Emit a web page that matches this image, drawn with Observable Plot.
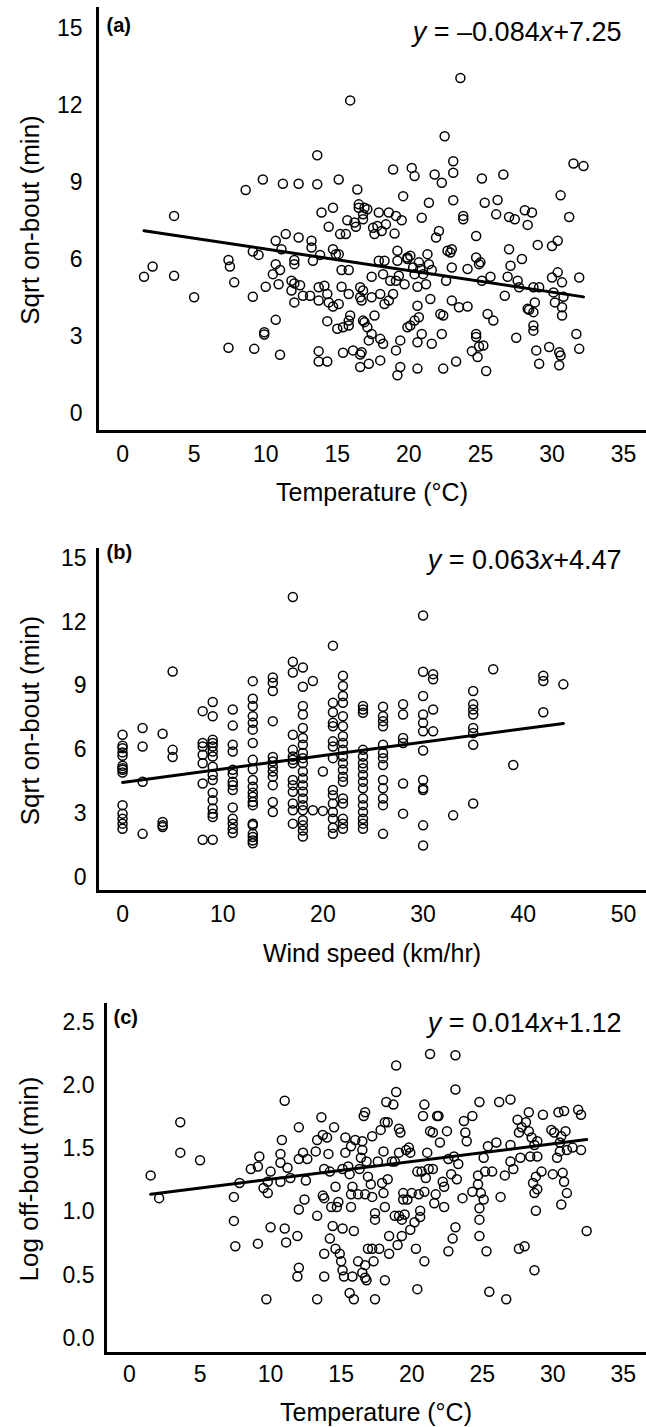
<!DOCTYPE html>
<html><head><meta charset="utf-8">
<script src="https://cdn.jsdelivr.net/npm/d3@7"></script>
<script src="https://cdn.jsdelivr.net/npm/@observablehq/plot@0.6"></script>
<style>
body{margin:0;background:#fff;}
#chart svg{display:block;}
</style>
</head><body><div id="chart"></div>
<script>
// ---------- Panel (a): temperature vs sqrt on-bout ----------
const tempA = [1.5,2.1,3.6,3.6,5.0,7.4,7.5,7.8,7.4,8.6,9.1,9.1,9.2,9.5,9.8,9.9,9.9,10.0,10.7,10.7,10.5,10.7,11.0,10.9,11.1,11.0,11.2,11.4,12.3,12.3,12.0,12.0,11.8,12.0,11.8,12.0,12.4,12.6,13.1,13.2,13.2,13.3,13.6,13.6,13.7,13.7,13.7,13.7,13.9,13.8,14.1,14.3,14.3,14.3,14.4,14.7,14.7,14.4,14.7,14.9,15.1,15.1,15.1,15.0,15.2,15.3,15.3,15.4,15.4,15.6,15.7,15.8,15.8,15.8,15.8,15.9,15.9,16.1,16.2,16.3,16.4,16.5,16.5,16.6,16.6,16.6,16.6,16.7,16.8,16.8,16.7,16.8,16.8,16.9,16.9,17.1,17.1,17.2,17.2,17.4,17.4,17.4,17.5,17.6,17.6,17.8,17.9,17.9,18.0,18.0,18.0,18.1,18.2,18.2,18.3,18.3,18.4,18.6,18.6,18.7,18.9,18.9,19.0,19.1,19.1,19.1,19.2,19.2,19.3,19.4,19.2,19.4,19.5,19.6,19.7,19.9,19.9,19.9,20.1,20.1,20.2,20.3,20.4,20.4,20.4,20.6,20.6,20.7,20.6,20.6,20.7,20.8,20.9,20.9,21.0,21.2,21.3,21.4,21.4,21.5,21.6,21.6,21.8,21.9,22.1,22.3,22.2,22.3,22.4,22.4,22.5,22.6,22.7,22.9,23.0,23.0,23.0,23.1,23.1,23.1,23.3,23.5,23.6,23.8,23.8,24.1,24.1,24.4,24.7,24.7,24.7,24.7,24.8,24.9,24.9,25.0,25.1,25.1,25.2,25.3,25.4,25.5,25.7,25.9,26.1,26.2,26.6,26.7,27.0,27.0,27.1,26.9,27.4,27.5,27.6,27.7,27.9,28.1,28.3,28.3,28.4,28.6,28.7,28.7,28.7,28.7,28.8,28.9,29.0,29.1,29.1,29.8,30.0,30.0,30.1,30.2,30.4,30.4,30.5,30.6,30.5,30.6,30.7,30.7,30.7,30.8,31.2,31.5,31.7,31.9,31.9,32.2];
const onA = [5.33,5.73,7.70,5.37,4.53,5.98,5.73,5.11,2.56,8.71,6.31,4.55,2.52,6.18,9.12,3.17,3.08,4.94,6.73,5.82,5.43,3.65,2.29,5.04,6.40,5.59,8.95,6.99,8.95,6.86,5.98,5.82,5.17,5.07,4.79,4.33,5.0,4.59,4.59,6.73,6.47,5.95,8.93,10.06,4.92,4.40,2.43,2.03,7.83,6.18,4.98,4.66,3.60,2.03,7.28,8.02,6.40,4.33,4.17,6.21,9.12,6.21,4.27,3.30,6.99,5.59,4.94,3.36,2.37,6.99,7.53,5.59,4.66,3.62,3.43,12.2,3.82,2.46,7.44,7.28,8.73,8.15,8.02,4.92,4.53,2.30,1.81,2.39,7.76,7.57,4.40,4.79,3.62,8.02,3.56,7.96,3.36,2.85,1.94,5.33,4.53,3.10,7.24,6.99,3.82,7.31,7.83,5.95,4.66,2.91,2.07,7.11,5.43,2.72,4.27,5.95,7.37,7.83,4.40,5.17,9.51,4.66,7.01,5.17,2.46,7.70,6.34,5.95,5.37,2.85,1.49,1.81,7.53,8.47,5.04,6.08,3.36,6.02,6.15,3.43,9.57,5.69,9.25,5.43,3.62,4.94,1.75,5.89,4.20,2.78,3.75,5.63,7.63,3.10,5.43,5.04,6.21,8.21,5.82,4.46,5.59,2.72,9.31,6.86,7.11,8.99,3.88,3.10,3.82,1.75,10.8,5.17,6.34,6.27,6.40,4.40,5.69,9.83,9.38,8.31,2.03,4.14,13.07,7.70,7.57,5.63,4.17,2.43,6.92,6.08,3.10,2.98,2.20,5.82,2.61,5.89,9.16,5.17,2.65,8.21,1.66,3.88,5.33,3.62,7.76,8.32,9.31,4.59,6.40,7.66,5.76,5.33,7.57,2.95,5.17,4.92,6.02,7.92,7.35,4.08,4.04,7.83,4.92,3.95,3.43,3.23,4.33,2.46,6.57,1.94,4.92,2.59,6.53,5.30,4.72,4.33,6.73,5.50,2.39,2.26,1.88,8.50,5.11,4.14,3.82,4.55,7.66,9.74,3.10,2.52,5.30,9.64];

// ---------- Panel (b): wind speed vs sqrt on-bout ----------
const windB = [
 0,0,0,0,0,0,0,0,0,0,0,0,0,0,
 2,2,2,2, 4,4,4,4, 5,5,5,
 8,8,8,8,8,8,8,
 9,9,9,9,9,9,9,9,9,9,9,9,9,9,9,9,
 11,11,11,11,11,11,11,11,11,11,11,11,11,11,
 13,13,13,13,13,13,13,13,13,13,13,13,13,13,13,13,13,13,13,13,13,
 15,15,15,15,15,15,15,15,15,15,15,15,
 17,17,17,17,17,17,17,17,17,17,17,17,17,17,
 18,18,18,18,18,18,18,18,18,18,18,18,18,18,18,18,18,18,18,18,18,
 19,19, 20,20,
 21,21,21,21,21,21,21,21,21,21,21,21,21,21,21,
 22,22,22,22,22,22,22,22,22,22,22,22,22,22,22,22,22,22,22,
 24,24,24,24,24,24,24,24,24,24,24,24,24,24,24,24,
 26,26,26,26,26,26,26,26,26,26,26,26,26,
 28,28,28,28,28,28,
 30,30,30,30,30,30,30,30,30,30,30,30,
 31,31,31,31, 33,
 35,35,35,35,35,35,35,35,
 37, 39, 42,42,42, 44];
const onB = [
 6.71,6.19,6.08,5.88,5.72,5.25,5.14,5.06,4.93,3.40,3.00,2.76,2.53,2.29,
 7.03,6.16,4.50,2.05, 6.76,2.61,2.45,2.37, 9.68,6.0,5.66,
 7.82,6.32,6.16,5.77,5.37,4.42,1.77,
 8.25,7.58,6.48,6.32,6.16,5.92,5.69,5.21,4.82,4.58,3.98,3.63,3.24,3.0,2.84,1.77,
 7.9,7.14,6.24,5.92,5.06,4.87,4.50,4.34,4.11,3.29,2.76,2.53,2.29,2.09,
 9.23,8.40,8.06,7.58,7.27,6.95,6.32,5.53,5.09,4.58,4.27,3.98,3.79,3.55,3.40,2.53,2.45,2.05,1.90,1.74,1.61,
 9.40,9.16,8.77,7.35,5.66,5.45,5.21,4.98,4.74,4.34,3.55,3.08,
 13.19,10.14,9.64,6.71,6.0,5.69,5.53,5.37,4.58,4.34,4.03,3.48,3.16,2.53,
 9.87,8.97,8.06,7.66,7.03,6.56,6.24,5.85,5.61,5.37,4.98,4.66,4.34,4.03,3.71,3.40,3.16,2.69,2.45,2.21,1.93,
 9.24,3.16, 4.98,3.13,
 10.9,8.21,7.77,7.27,7.11,6.40,6.16,5.61,4.11,3.87,3.48,3.08,2.76,2.34,2.05,
 9.48,9.0,8.53,8.21,7.58,7.11,6.64,6.32,6.0,5.69,5.37,5.06,4.74,4.50,3.71,3.48,2.76,2.53,2.29,
 8.06,7.9,7.74,6.0,5.69,5.37,5.13,4.82,4.50,4.19,3.71,3.40,3.08,2.76,2.53,2.29,
 8.03,7.58,7.35,7.11,6.24,5.85,5.61,5.29,4.58,4.19,3.71,3.40,2.05,
 8.14,7.66,6.56,6.32,4.42,3.0,
 12.32,9.67,8.53,7.66,7.27,6.87,5.97,4.58,4.19,4.11,2.45,1.50,
 9.56,9.32,7.90,6.87, 2.92,
 8.77,8.14,7.9,7.66,7.03,6.79,6.24,3.48,
 9.79, 5.29, 9.48,9.24,7.77, 9.08];

// ---------- Panel (c): temperature vs log off-bout ----------
const tempC = [1.5,2.1,3.6,3.6,5.0,7.8,7.4,7.4,7.5,8.6,9.1,9.2,9.1,9.5,9.8,9.7,10.0,9.8,10.0,10.7,10.8,10.7,10.7,11.0,11.0,11.1,11.2,11.4,11.9,12.0,12.0,12.0,12.0,11.9,12.3,12.4,12.5,12.6,13.2,13.3,13.3,13.3,13.6,13.7,13.8,13.7,13.8,13.8,13.8,14.0,14.1,14.2,14.2,14.3,14.4,14.5,14.6,14.6,14.7,14.8,14.9,15.0,15.1,15.1,15.2,15.1,15.3,15.3,15.5,15.6,15.6,15.7,15.7,15.7,15.8,15.8,15.9,15.9,16.0,16.2,16.2,16.3,16.4,16.5,16.5,16.5,16.6,16.7,16.7,16.7,16.7,16.8,16.8,16.9,16.9,17.1,17.2,17.2,17.2,17.3,17.4,17.4,17.4,17.6,17.7,17.8,17.9,18.0,18.0,18.1,18.1,18.1,18.2,18.3,18.3,18.4,18.4,18.6,18.7,18.8,18.8,18.9,18.9,19.0,19.1,19.1,19.1,19.2,19.3,19.3,19.4,19.4,19.5,19.6,19.7,19.8,19.9,19.9,20.0,20.2,20.3,20.4,20.4,20.5,20.6,20.6,20.7,20.8,20.9,20.9,20.9,21.0,21.1,21.2,21.3,21.3,21.5,21.5,21.6,21.7,21.8,21.9,22.0,22.2,22.3,22.3,22.5,22.6,22.6,22.8,22.9,23.0,23.1,23.1,23.1,23.2,23.3,23.6,23.7,23.8,23.9,24.3,24.3,24.7,24.7,24.8,24.8,24.8,24.8,24.9,25.1,25.1,25.2,25.3,25.4,25.5,25.7,26.0,26.2,26.3,26.6,26.7,27.0,27.0,27.0,27.2,27.5,27.6,27.6,27.7,27.8,28.0,28.1,28.3,28.3,28.4,28.5,28.6,28.7,28.7,28.7,28.8,28.9,28.8,28.9,28.9,29.2,29.3,29.9,30.0,30.1,30.3,30.4,30.5,30.5,30.6,30.6,30.7,30.8,30.8,30.9,31.0,31.0,31.4,31.8,32.0,32.0,32.4];
const offC = [1.29,1.11,1.71,1.47,1.41,1.23,1.12,0.93,0.73,1.34,1.36,1.44,0.75,1.19,1.15,0.31,1.32,1.24,0.88,1.46,1.57,1.39,1.24,1.88,0.87,0.76,1.35,1.27,0.81,1.42,1.67,1.02,0.56,0.49,1.47,1.10,1.25,1.42,1.48,1.57,0.97,0.31,1.75,1.61,1.34,1.13,1.11,0.67,0.49,1.59,1.46,1.32,0.79,1.04,0.89,1.67,1.20,0.71,1.04,1.08,0.67,0.61,0.87,0.54,0.49,1.34,1.47,1.59,1.36,1.30,0.36,1.52,1.04,1.14,1.20,0.49,0.85,0.31,1.57,1.14,0.61,1.34,1.43,1.56,1.49,0.52,1.76,0.48,1.79,1.14,0.58,0.46,1.40,0.71,1.28,1.22,1.60,1.12,0.71,0.61,0.99,0.94,0.31,1.40,0.71,1.65,1.23,1.48,1.15,1.04,0.46,1.71,1.87,1.71,1.26,0.81,0.67,1.40,1.85,1.40,0.97,2.16,1.95,0.74,0.97,1.47,1.66,1.63,0.94,0.81,1.15,1.10,0.98,1.49,1.10,1.51,1.47,0.86,1.15,0.92,0.71,1.32,0.39,1.14,0.96,1.01,1.32,1.76,1.85,0.61,1.16,1.27,1.47,1.34,2.25,1.64,1.63,1.34,1.07,1.14,1.76,1.76,1.55,1.24,1.20,1.04,1.64,0.69,1.42,1.30,0.79,1.44,1.97,2.24,0.88,1.26,1.38,1.11,1.72,1.63,1.56,1.76,1.16,1.29,1.22,1.87,1.03,0.94,0.81,1.15,1.43,1.10,1.32,0.69,1.52,0.37,1.32,1.55,1.87,1.12,1.29,0.31,1.89,1.53,1.40,1.34,1.73,1.63,0.71,1.43,1.67,0.73,1.71,1.79,1.64,1.44,1.59,1.23,1.15,0.54,1.53,1.28,1.18,1.01,1.44,1.56,1.32,1.77,1.65,1.30,1.63,1.43,1.79,1.55,1.48,1.60,1.06,1.31,1.24,1.80,1.64,1.49,1.15,1.51,1.81,1.77,1.49,0.85];

// ---------- Labels, ticks, regression coefficients ----------
const panelTags = ["(a)", "(b)", "(c)"];
const xLabels = ["Temperature (°C)", "Wind speed (km/hr)", "Temperature (°C)"];
const yLabels = ["Sqrt on-bout (min)", "Sqrt on-bout (min)", "Log off-bout (min)"];
const slopes = [-0.084, 0.063, 0.014];
const intercepts = [7.25, 4.47, 1.12];
const equations = ["y = –0.084x+7.25", "y = 0.063x+4.47", "y = 0.014x+1.12"];
const xTicksTemp = [0, 5, 10, 15, 20, 25, 30, 35];
const xTicksWind = [0, 10, 20, 30, 40, 50];
const yTicksOn = [0, 3, 6, 9, 12, 15];
const yTicksOff = [0, 0.5, 1.0, 1.5, 2.0, 2.5];

const FONT = "'Liberation Sans', Arial, Helvetica, sans-serif";

function panel(o) {
  const xs = o.xs, ys = o.ys;
  const idx = d3.range(xs.length);
  const ext = d3.extent(xs);
  const fit = ext.map(v => ({x: v, y: o.slope * v + o.intercept}));
  const [x0, x1] = o.xDomain, [y0, y1] = o.yDomain;
  const svg = Plot.plot({
    width: 646, height: o.height,
    marginTop: o.mt, marginBottom: o.mb, marginLeft: o.ml, marginRight: 0,
    style: {fontFamily: FONT, fontSize: "23px", background: "white", color: "black", overflow: "visible"},
    x: {domain: o.xDomain, ticks: o.xTicks, tickSize: 0, tickPadding: o.xPad, label: null, tickFormat: d3.format("d")},
    y: {domain: o.yDomain, ticks: o.yTicks, tickSize: 0, tickPadding: o.yPad, label: null, tickFormat: o.yFormat},
    marks: [
      Plot.dot(idx, {x: i => xs[i], y: i => ys[i], r: 4.5, stroke: "black", strokeWidth: 1.5, fill: "none"}),
      Plot.line(fit, {x: "x", y: "y", stroke: "black", strokeWidth: 3}),
      Plot.link([0], {x1: x0, y1: y1, x2: x0, y2: y0, stroke: "black", strokeWidth: 3, strokeLinecap: "square"}),
      Plot.link([0], {x1: x0, y1: y0, x2: x1, y2: y0, stroke: "black", strokeWidth: 3, strokeLinecap: "square"}),
      Plot.text([o.xLabel], {text: d => d, frameAnchor: "bottom", dy: o.xLabelDy, textAnchor: "middle", lineAnchor: "middle", fontSize: 25}),
      Plot.text([o.yLabel], {text: d => d, frameAnchor: "left", dx: o.yLabelDx, rotate: -90, textAnchor: "middle", lineAnchor: "middle", fontSize: 26}),
      Plot.text([o.eq], {text: d => d, frameAnchor: "top-right", dx: -25, dy: o.eqDy, textAnchor: "end", lineAnchor: "middle", fontSize: 27}),
      Plot.text([o.tag], {text: d => d, frameAnchor: "top-left", dx: o.tagDx, dy: o.tagDy, textAnchor: "start", lineAnchor: "middle", fontSize: 20, fontWeight: "bold"})
    ]
  });
  // italic x and y in the regression equation
  d3.select(svg).selectAll("text").filter(function () { return this.textContent === o.eq; })
    .each(function () {
      const t = d3.select(this);
      const m = o.eq.match(/^y(.*?)x(.*)$/);
      t.text(null);
      t.append("tspan").attr("font-style", "italic").text("y");
      t.append("tspan").text(m[1]);
      t.append("tspan").attr("font-style", "italic").text("x");
      t.append("tspan").text(m[2]);
    });
  return svg;
}

const chart = document.getElementById("chart");
chart.appendChild(panel({
  xs: tempA, ys: onA, height: 520, mt: 8, mb: 89, ml: 97,
  xDomain: [-1.75, 36.6], yDomain: [-0.70, 15.78], xTicks: xTicksTemp, yTicks: yTicksOn, yFormat: d3.format("d"),
  xPad: 14, yPad: 15, slope: slopes[0], intercept: intercepts[0], eq: equations[0], tag: panelTags[0],
  xLabel: xLabels[0], yLabel: yLabels[0], xLabelDy: 61, yLabelDx: -67, eqDy: 24, tagDx: 9, tagDy: 17
}));
chart.appendChild(panel({
  xs: windB, ys: onB, height: 465, mt: 29, mb: 94, ml: 97,
  xDomain: [-2.5, 52.3], yDomain: [-0.66, 15.42], xTicks: xTicksWind, yTicks: yTicksOn, yFormat: d3.format("d"),
  xPad: 14, yPad: 11, slope: slopes[1], intercept: intercepts[1], eq: equations[1], tag: panelTags[1],
  xLabel: xLabels[1], yLabel: yLabels[1], xLabelDy: 62, yLabelDx: -67, eqDy: 11, tagDx: 9, tagDy: 3
}));
chart.appendChild(panel({
  xs: tempC, ys: offC, height: 442, mt: 19, mb: 74, ml: 105,
  xDomain: [-1.70, 36.64], yDomain: [-0.119, 2.642], xTicks: xTicksTemp, yTicks: yTicksOff, yFormat: d3.format(".1f"),
  xPad: 12, yPad: 11, slope: slopes[2], intercept: intercepts[2], eq: equations[2], tag: panelTags[2],
  xLabel: xLabels[2], yLabel: yLabels[2], xLabelDy: 59, yLabelDx: -76, eqDy: 19, tagDx: 8, tagDy: 13
}));
</script>
</body></html>
